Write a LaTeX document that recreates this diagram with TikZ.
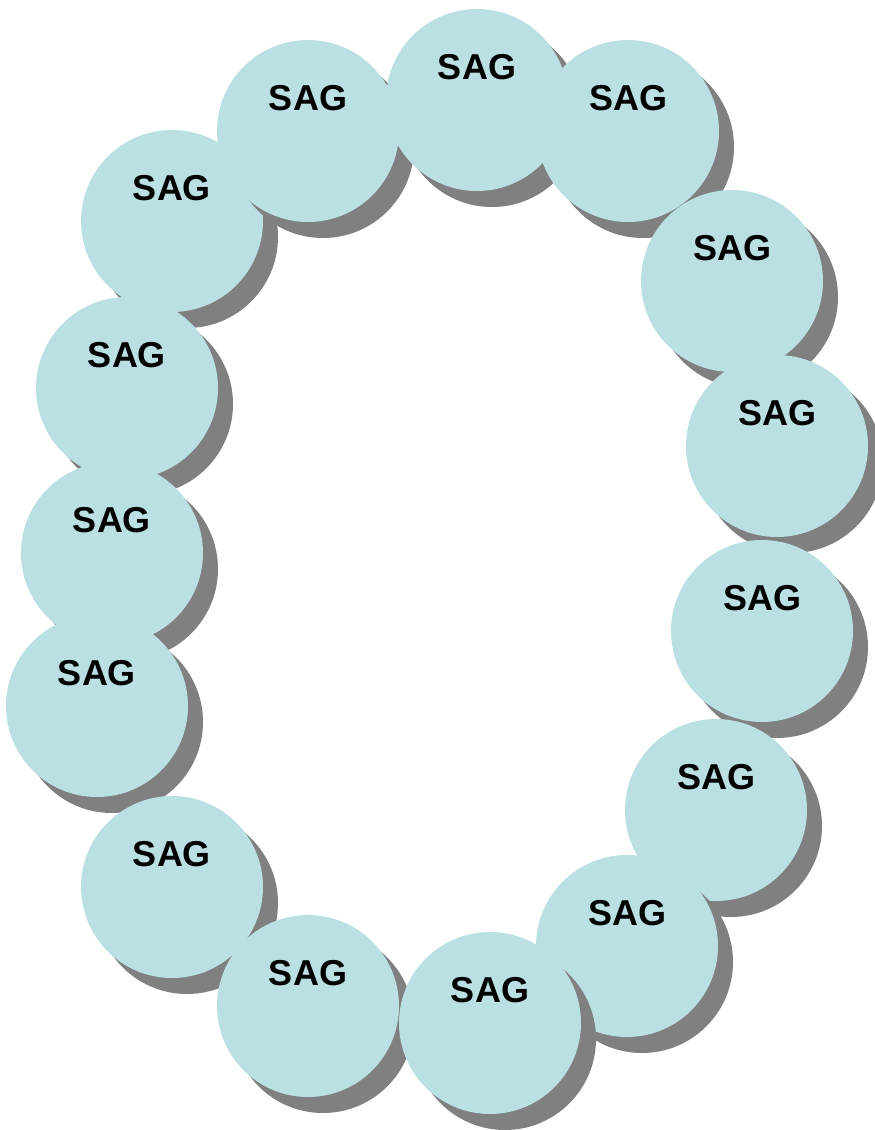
\documentclass[tikz,border=0pt]{standalone}
\usepackage{fontspec}
\setmainfont{Liberation Sans}
\usetikzlibrary{shadows}
\definecolor{SagBlue}{RGB}{187,224,228}
\definecolor{ShadowGray}{RGB}{128,128,128}
\tikzset{
  sagcirc/.style={circle, fill=SagBlue, minimum size=182pt, inner sep=0pt,
    drop shadow={shadow xshift=15pt, shadow yshift=-16pt, fill=ShadowGray, opacity=1}},
  sagtext/.style={font=\fontsize{36}{40}\selectfont\bfseries, inner sep=0pt},
}
\begin{document}
\begin{tikzpicture}[x=1pt, y=-1pt]
  \useasboundingbox (0,0) rectangle (875,1130);
  % ring of circles, drawn so that each one lies over the one before it
  \foreach \cx/\cy [count=\i] in {172/221, 308/131, 477/100, 628/131, 732/281,
      777/446, 762/631, 716/810, 627/946, 127/388, 112/553, 97/706, 172/887,
      308/1006, 490/1023} {
    \node[sagcirc] (c\i) at (\cx,\cy) {};
    \node[sagtext] (t\i) at ([yshift=33pt]c\i.center) {SAG};
  }
\end{tikzpicture}
\end{document}
